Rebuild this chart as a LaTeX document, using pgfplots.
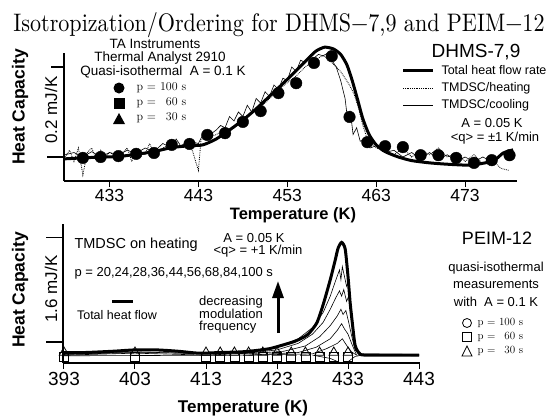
\documentclass[border=0pt]{standalone}
\usepackage{pgfplots}
\pgfplotsset{compat=1.18}
\usepackage{fontspec}
\setsansfont{Liberation Sans}
\usetikzlibrary{arrows.meta}
\newcommand\fs[1]{\fontsize{#1bp}{#1bp}\selectfont}
\begin{document}
\begin{tikzpicture}
\path[use as bounding box] (0,0) rectangle (554bp,-418bp);
% ---------------- top panel ----------------
\begin{axis}[
  at={(64bp,-181bp)}, anchor=south west, scale only axis,
  width=453bp, height=128bp,
  xmin=427.88, xmax=478.84, ymin=-0.0533, ymax=0.2311,
  axis x line*=bottom, axis y line*=left,
  x axis line style={-, line width=2.5bp},
  y axis line style={-, line width=1.5bp},
  xtick={433,443,...,473}, ytick=\empty,
  tick align=outside, major tick length=6bp,
  every tick/.style={black, line width=1bp},
  xticklabel style={font=\sffamily\fs{17.5}, yshift=1bp},
  /pgf/number format/assume math mode=true,
  clip=false,
]
% TMDSC/heating (dotted)
\addplot[black, densely dotted, line width=0.8bp] coordinates {
(428,0.0) (428.5,0.015) (429,-0.01) (429.5,0.02) (430,-0.04) (430.5,0.01) (431,0.02) (431.5,-0.005) (432,0.015) (432.5,0.0) (433,0.01) (434,0.0) (435,0.02) (435.5,-0.01) (436,0.015) (437,0.005) (437.5,0.03) (438,0.01) (439,0.02) (440,0.03) (441,0.02) (442,0.035) (443,-0.03) (443.3,0.04) (444,0.04) (445,0.05) (446,0.06) (447,0.065) (448,0.085) (449,0.1) (450,0.11) (451,0.13) (452,0.15) (453,0.165) (454,0.18) (455,0.2) (456,0.215) (457,0.225) (457.5,0.22) (458,0.21) (458.5,0.2) (459,0.19) (459.5,0.175) (460,0.16) (460.5,0.14) (461,0.11) (461.5,0.07) (462,0.04) (462.5,0.03) (463,0.02) (464,0.015) (465,0.005) (466,0.02) (467,0.0) (468,0.015) (469,0.005) (470,0.02) (471,0.0) (472,0.01) (473,-0.01) (474,0.005) (475,-0.015) (476,-0.005) (477,-0.025) (478,-0.03)
};
% TMDSC/cooling (thin)
\addplot[black, line width=0.6bp] coordinates {
(428,0.005) (429,0.01) (430,0.0) (431,0.012) (432,0.0) (433,0.01) (434,0.005) (435,0.015) (436,0.008) (437,0.02) (438,0.012) (439,0.03) (440,0.02) (440.5,0.04) (441,0.025) (442,0.035) (443,0.03) (443.5,0.05) (444,0.045) (445,0.06) (445.5,0.07) (446,0.065) (446.5,0.09) (447,0.08) (447.5,0.1) (448,0.09) (448.5,0.115) (449,0.1) (449.5,0.13) (450,0.12) (450.5,0.145) (451,0.135) (451.5,0.16) (452,0.15) (452.5,0.175) (453,0.17) (453.5,0.2) (454,0.19) (454.5,0.215) (455,0.21) (455.5,0.225) (456,0.22) (456.5,0.228) (457,0.225) (457.5,0.23) (458,0.215) (458.5,0.2) (459,0.17) (459.5,0.13) (459.8,0.08) (460.1,0.1) (460.4,0.05) (460.8,0.065) (461.2,0.035) (461.8,0.04) (462.3,0.02) (463,0.025) (464,0.01) (465,0.015) (466,0.0) (467,0.01) (468,-0.005) (469,0.01) (470,-0.005) (471,0.005) (472,-0.01) (473,0.0) (474,-0.01) (475,0.0) (476,-0.01) (477,0.005) (478,0.01)
};
% total heat flow rate (thick)
\addplot[black, line width=3bp, smooth, tension=0.4] coordinates {
(428.0,-0.004) (430,-0.002) (432,0.0) (434,0.001) (436,0.006) (438,0.012) (440,0.021) (442,0.025) (443.5,0.027) (445,0.04) (446.5,0.06) (448,0.082) (449.5,0.107) (451,0.135) (452.5,0.163) (454,0.192) (455.2,0.216) (456.2,0.235) (457.2,0.244) (458.2,0.240) (459.0,0.228) (459.7,0.205) (460.3,0.17) (460.9,0.128) (461.5,0.085) (462.2,0.05) (463,0.027) (464,0.012) (465.5,0.0) (467,-0.008) (469,-0.013) (471,-0.016) (473.5,-0.018) (475.5,-0.012) (476.5,-0.004) (477.3,0.009) (478.4,0.016)
};
% quasi-isothermal p = 100 s
\addplot[only marks, mark=*, mark size=5.8bp, black] coordinates {
(430,-0.002) (432,0.0) (434,0.002) (436,0.007) (438,0.009) (440,0.027) (442,0.029) (444,0.049) (446,0.053) (448,0.078) (450,0.102) (452,0.142) (454,0.164) (456,0.209) (458,0.224) (460,0.089) (462,0.033) (464,0.024) (466,0.022) (468,0.004) (470,0.004) (472,-0.002) (474,-0.013) (476,-0.007) (478,0.004)
};
\coordinate (ta) at (axis cs:427.88,0);
\coordinate (tb) at (axis cs:427.88,0.2);
\end{axis}
\draw[line width=1.2bp] (ta) -- ++(-17bp,0);
\draw[line width=1.2bp] (tb) -- ++(-13bp,0);
% ---------------- bottom panel ----------------
\begin{axis}[
  at={(63bp,-363bp)}, anchor=south west, scale only axis,
  width=357bp, height=139bp,
  xmin=392.86, xmax=443.14, ymin=-0.32, ymax=1.80,
  axis x line*=bottom, axis y line*=left,
  x axis line style={-, line width=2.5bp},
  y axis line style={-, line width=1.5bp},
  xtick={393,403,...,443}, ytick=\empty,
  tick align=outside, major tick length=6bp,
  every tick/.style={black, line width=1bp},
  xticklabel style={font=\sffamily\fs{19}},
  /pgf/number format/assume math mode=true,
  clip=false,
]
\addplot[black, line width=0.6bp] coordinates {(393,-0.18) (403,-0.15) (413,-0.18) (419,-0.15) (423,-0.08) (426,0.05) (428,0.22) (429.5,0.45) (430.5,0.7) (431.3,0.95) (431.8,1.1) (432.0,0.95) (432.2,1.15) (432.5,1.0) (432.8,0.85) (433.0,0.9) (433.3,0.55) (433.7,0.1) (434.1,-0.12) (434.8,-0.2) (443,-0.2)};
\addplot[black, line width=0.6bp] coordinates {(393,-0.2) (403,-0.17) (413,-0.2) (419,-0.17) (423,-0.12) (426,-0.02) (428,0.12) (429.5,0.3) (430.5,0.5) (431.3,0.68) (431.8,0.78) (432.1,0.7) (432.4,0.8) (432.8,0.62) (433.1,0.7) (433.5,0.3) (433.9,0.0) (434.5,-0.18) (443,-0.19)};
\addplot[black, line width=0.6bp] coordinates {(393,-0.19) (403,-0.16) (419,-0.18) (424,-0.14) (427,-0.06) (429,0.08) (430.5,0.25) (431.5,0.4) (432.0,0.5) (432.3,0.42) (432.7,0.48) (433.1,0.3) (433.5,0.1) (434,-0.12) (434.6,-0.2) (443,-0.21)};
\addplot[black, line width=0.6bp] coordinates {(393,-0.21) (419,-0.2) (426,-0.16) (428.5,-0.08) (430.5,0.05) (431.5,0.18) (432.1,0.28) (432.5,0.2) (433,0.12) (433.5,-0.02) (434.2,-0.2) (443,-0.2)};
\addplot[black, line width=0.6bp] coordinates {(419,-0.2) (428,-0.18) (430,-0.1) (431.5,-0.02) (432.2,0.05) (432.8,-0.05) (433.5,-0.15) (434.2,-0.2)};
\addplot[black, line width=0.6bp] coordinates {(428,-0.2) (430.5,-0.25) (432,-0.32) (433,-0.3) (434,-0.22) (435,-0.2)};
% total heat flow (thick)
\addplot[black, line width=3bp, smooth, tension=0.4] coordinates {
(393,-0.16) (396,-0.16) (400,-0.14) (403,-0.12) (406,-0.12) (409,-0.14) (412,-0.17) (415,-0.16) (418,-0.15) (420,-0.13) (422,-0.1) (424,-0.04) (425.5,0.01) (426.5,0.06) (427.4,0.12) (428.6,0.29) (429.5,0.57) (430.5,0.95) (431.2,1.25) (431.6,1.43) (432.1,1.52) (432.6,1.42) (433.0,1.0) (433.3,0.6) (433.6,0.3) (434.0,-0.05) (434.6,-0.17) (435.5,-0.2) (443,-0.2)
};
% quasi-isothermal markers
\addplot[only marks, mark=square, mark size=4.5bp, black, line width=0.8bp, fill=white] coordinates {
(393,-0.23) (403,-0.23) (413,-0.23) (415,-0.23) (417,-0.23) (419,-0.23) (421,-0.23) (423,-0.23) (425,-0.23) (427,-0.23) (429,-0.23) (431,-0.23) (433,-0.23)};
\addplot[only marks, mark=triangle, mark size=5.5bp, black, line width=0.8bp] coordinates {
(393,-0.16) (403,-0.16) (413,-0.16) (415,-0.16) (417,-0.16) (419,-0.16) (421,-0.16) (423,-0.16) (425,-0.16) (427,-0.16) (429,-0.16) (431,-0.16) (433,-0.16)};
\coordinate (tc) at (axis cs:392.86,0);
\coordinate (td) at (axis cs:392.86,1.6);
\end{axis}
\draw[line width=1.2bp] (tc) -- ++(-17bp,0);
\draw[line width=1.2bp] (td) -- ++(-17bp,0);
% ---------------- texts ----------------
\node[anchor=base, font=\rmfamily] at (279bp,-31bp) {\resizebox{531bp}{19bp}{Isotropization/Ordering for DHMS−7,9 and PEIM−12}};
% top left
\node[font=\sffamily\fs{13.5}] at (155bp,-44bp) {TA Instruments};
\node[font=\sffamily\fs{13.5}] at (160bp,-58bp) {Thermal Analyst 2910};
\node[font=\sffamily\fs{13.5}] at (163bp,-72bp) {Quasi-isothermal\ \ A = 0.1 K};
\fill (119bp,-88bp) circle (5.5bp);
\fill (113.5bp,-108.5bp) rectangle (124.5bp,-97.5bp);
\fill (113bp,-124bp) -- (125bp,-124bp) -- (119bp,-113bp) -- cycle;
\node[anchor=west, font=\rmfamily\fs{12}] at (133bp,-88bp) {p = 100 s};
\node[anchor=west, font=\rmfamily\fs{12}] at (133bp,-103bp) {p = \phantom{1}60 s};
\node[anchor=west, font=\rmfamily\fs{12}] at (133bp,-118bp) {p = \phantom{1}30 s};
% top right
\node[font=\sffamily\fs{19}] at (476bp,-52bp) {DHMS-7,9};
\draw[line width=3bp] (403bp,-70bp) -- (433bp,-70bp);
\node[anchor=west, font=\sffamily\fs{12.5}] at (438bp,-70bp) {Total heat flow rate};
\draw[densely dotted, line width=0.8bp] (403bp,-88bp) -- (433bp,-88bp);
\node[anchor=west, font=\sffamily\fs{12.5}] at (438bp,-88bp) {TMDSC/heating};
\draw[line width=0.7bp] (403bp,-105bp) -- (433bp,-105bp);
\node[anchor=west, font=\sffamily\fs{12.5}] at (438bp,-105bp) {TMDSC/cooling};
\node[font=\sffamily\fs{13}] at (492bp,-123bp) {A = 0.05 K};
\node[font=\sffamily\fs{13}] at (495bp,-138bp) {<q> = ±1 K/min};
% axis labels
\node[font=\sffamily\bfseries\fs{16.5}] at (293bp,-215bp) {Temperature (K)};
\node[font=\sffamily\bfseries\fs{17}] at (243bp,-408bp) {Temperature (K)};
\node[rotate=90, font=\sffamily\bfseries\fs{17.5}] at (20bp,-107bp) {Heat Capacity};
\node[rotate=90, font=\sffamily\fs{17}] at (51bp,-110bp) {0.2 mJ/K};
\node[rotate=90, font=\sffamily\bfseries\fs{17.5}] at (20bp,-290bp) {Heat Capacity};
\node[rotate=90, font=\sffamily\fs{17}] at (51bp,-289bp) {1.6 mJ/K};
% bottom left
\node[anchor=west, font=\sffamily\fs{14.5}] at (71bp,-245bp) {TMDSC on heating};
\node[font=\sffamily\fs{13}] at (254bp,-238bp) {A = 0.05 K};
\node[font=\sffamily\fs{13}] at (258bp,-251bp) {<q> = +1 K/min};
\node[anchor=west, font=\sffamily\fs{13}] at (71bp,-273bp) {p = 20,24,28,36,44,56,68,84,100 s};
\draw[line width=3bp] (112bp,-301bp) -- (133bp,-301bp);
\node[font=\sffamily\fs{12.5}] at (117bp,-315bp) {Total heat flow};
\node[anchor=north west, align=left, inner sep=0pt, font=\sffamily\fontsize{13bp}{11.5bp}\selectfont] at (199bp,-296bp) {decreasing\\modulation\\frequency};
\draw[line width=3bp, -{Triangle[length=17bp, width=11bp]}] (278bp,-333bp) -- (278bp,-281bp);
% bottom right
\node[font=\sffamily\fs{18}] at (497bp,-238bp) {PEIM-12};
\node[font=\sffamily\fs{13}] at (496bp,-268bp) {quasi-isothermal};
\node[font=\sffamily\fs{13}] at (496bp,-284bp) {measurements};
\node[font=\sffamily\fs{13}] at (496bp,-302bp) {with\ \ A = 0.1 K};
\draw[line width=0.8bp] (467bp,-323bp) circle (4.5bp);
\draw[line width=0.8bp] (462.5bp,-341.5bp) rectangle (471.5bp,-332.5bp);
\draw[line width=0.8bp] (462bp,-356bp) -- (472bp,-356bp) -- (467bp,-346bp) -- cycle;
\node[anchor=west, font=\rmfamily\fs{11}] at (474bp,-323bp) {p = 100 s};
\node[anchor=west, font=\rmfamily\fs{11}] at (474bp,-337bp) {p = \phantom{1}60 s};
\node[anchor=west, font=\rmfamily\fs{11}] at (474bp,-351bp) {p = \phantom{1}30 s};
\end{tikzpicture}
\end{document}
